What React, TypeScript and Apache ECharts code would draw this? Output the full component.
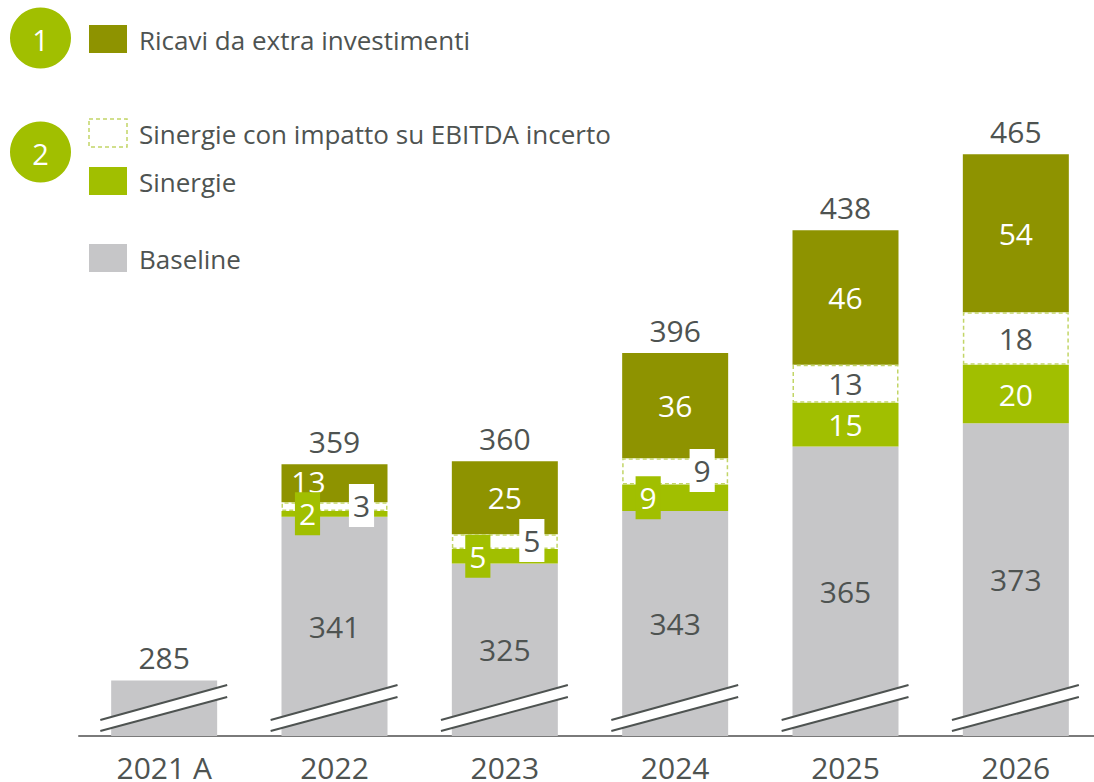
import React, { useEffect, useRef } from "react";
import * as echarts from "echarts";

const categories = ["2021 A", "2022", "2023", "2024", "2025", "2026"];
const baseline = [285, 341, 325, 343, 365, 373];
const sinergie = [0, 2, 5, 9, 15, 20];
const sinergieIncerte = [0, 3, 5, 9, 13, 18];
const ricaviExtra = [0, 13, 25, 36, 46, 54];
const totals = [285, 359, 360, 396, 438, 465];

const legendTexts = [
  "Ricavi da extra investimenti",
  "Sinergie con impatto su EBITDA incerto",
  "Sinergie",
  "Baseline",
];

const AXIS_MIN = 266;
const AXIS_MAX = 500;

const OLIVE = "#8e9300";
const GREEN = "#a1bf00";
const GRAY = "#c6c6c8";
const DARK = "#4e5351";
const DASH = "#c2d567";
const FONT = "Open Sans";

export default function App() {
  const ref = useRef<HTMLDivElement>(null);

  useEffect(() => {
    if (!ref.current) return;
    const chart = echarts.init(ref.current, undefined, { renderer: "svg" });

    const lbl = { fontFamily: FONT, fontSize: 30 };

    const baselineData = baseline.map((v, i) => ({
      value: v,
      label: { show: i > 0 },
    }));

    const greenData = sinergie.map((v) =>
      v === 0
        ? { value: v, label: { show: false } }
        : v < 10
        ? {
            value: v,
            label: {
              show: true,
              offset: [-27, 0],
              backgroundColor: GREEN,
              padding: [7, 4, 6, 4],
            },
          }
        : { value: v }
    );

    const dashedData = sinergieIncerte.map((v) =>
      v === 0
        ? { value: v, label: { show: false }, itemStyle: { borderWidth: 0 } }
        : v < 10
        ? {
            value: v,
            label: {
              show: true,
              offset: [27, -1],
              backgroundColor: "#ffffff",
              padding: [7, 4, 6, 4],
            },
          }
        : { value: v }
    );

    const oliveData = ricaviExtra.map((v) =>
      v === 0
        ? { value: v, label: { show: false } }
        : v < 20
        ? { value: v, label: { show: true, offset: [-26, -2] } }
        : { value: v }
    );

    const legendX = 89;
    const legendRows = [
      { y: 39, fill: OLIVE, dashed: false },
      { y: 133, fill: "#ffffff", dashed: true },
      { y: 181, fill: GREEN, dashed: false },
      { y: 258, fill: GRAY, dashed: false },
    ];

    const graphic: any[] = [];
    [
      { n: "1", cy: 38 },
      { n: "2", cy: 152 },
    ].forEach((c) => {
      graphic.push({
        type: "circle",
        shape: { cx: 40.5, cy: c.cy, r: 30.5 },
        style: { fill: GREEN },
      });
      graphic.push({
        type: "text",
        x: 40.5,
        y: c.cy + 1,
        style: {
          text: c.n,
          fill: "#ffffff",
          font: `29px "${FONT}"`,
          align: "center",
          verticalAlign: "middle",
        },
      });
    });
    legendRows.forEach((r, i) => {
      graphic.push({
        type: "rect",
        shape: { x: legendX, y: r.y - 14, width: 38, height: 28 },
        style: r.dashed
          ? { fill: "#ffffff", stroke: DASH, lineWidth: 1.5, lineDash: [4, 3] }
          : { fill: r.fill },
      });
      graphic.push({
        type: "text",
        x: 139,
        y: r.y + 1,
        style: {
          text: legendTexts[i],
          fill: DARK,
          font: `26px "${FONT}"`,
          align: "left",
          verticalAlign: "middle",
        },
      });
    });

    const option: any = {
      animation: false,
      textStyle: { fontFamily: FONT },
      grid: { left: 79, top: 52, width: 1022, height: 684 },
      xAxis: {
        type: "category",
        data: categories,
        axisLine: { lineStyle: { color: "#7a7a7a", width: 2 } },
        axisTick: { show: false },
        axisLabel: { color: DARK, fontSize: 30, fontFamily: FONT, margin: 16 },
      },
      yAxis: {
        type: "value",
        min: AXIS_MIN,
        max: AXIS_MAX,
        show: false,
        splitLine: { show: false },
      },
      graphic,
      series: [
        {
          name: "Baseline",
          type: "bar",
          stack: "s",
          barWidth: 106,
          z: 2,
          itemStyle: { color: GRAY },
          label: { show: true, position: "inside", color: DARK, ...lbl },
          data: baselineData,
        },
        {
          name: "Sinergie",
          type: "bar",
          stack: "s",
          barWidth: 106,
          z: 2,
          itemStyle: { color: GREEN },
          label: { show: true, position: "inside", color: "#ffffff", ...lbl },
          data: greenData,
        },
        {
          name: "Sinergie con impatto su EBITDA incerto",
          type: "bar",
          stack: "s",
          barWidth: 106,
          z: 2,
          itemStyle: {
            color: "#ffffff",
            borderColor: DASH,
            borderWidth: 1.5,
            borderType: [4, 3],
          },
          label: { show: true, position: "inside", color: DARK, ...lbl },
          data: dashedData,
        },
        {
          name: "Ricavi da extra investimenti",
          type: "bar",
          stack: "s",
          barWidth: 106,
          z: 1,
          itemStyle: { color: OLIVE },
          label: { show: true, position: "inside", color: "#ffffff", ...lbl },
          data: oliveData,
        },
        {
          name: "Totale",
          type: "bar",
          stack: "s",
          barWidth: 106,
          z: 2,
          itemStyle: { color: "transparent" },
          label: {
            show: true,
            position: "top",
            distance: 8,
            color: DARK,
            ...lbl,
            formatter: (p: any) => String(totals[p.dataIndex]),
          },
          data: totals.map(() => 0),
        },
        {
          type: "custom",
          z: 10,
          silent: true,
          clip: false,
          encode: { x: 0, y: 1 },
          data: categories.map((c) => [c, AXIS_MIN]),
          renderItem: (params: any, api: any) => {
            const pt = api.coord([api.value(0), api.value(1)]);
            const band = api.size([1, 0])[0];
            const x = pt[0];
            const y = pt[1];
            const l = x - band * 0.375;
            const r = x + band * 0.37;
            return {
              type: "group",
              children: [
                {
                  type: "polygon",
                  shape: { points: [[l, y - 16], [r, y - 51], [r, y - 39], [l, y - 5]] },
                  style: { fill: "#ffffff" },
                },
                {
                  type: "line",
                  shape: { x1: l, y1: y - 16, x2: r, y2: y - 51 },
                  style: { stroke: DARK, lineWidth: 2 },
                },
                {
                  type: "line",
                  shape: { x1: l, y1: y - 5, x2: r, y2: y - 39 },
                  style: { stroke: DARK, lineWidth: 2 },
                },
              ],
            };
          },
        },
      ],
    };

    chart.setOption(option);
    return () => chart.dispose();
  }, []);

  return (
    <div
      style={{
        position: "absolute",
        left: 0,
        top: 0,
        width: 1094,
        height: 782,
        overflow: "hidden",
      }}
    >
      <div ref={ref} style={{ width: 1110, height: 782 }} />
    </div>
  );
}
